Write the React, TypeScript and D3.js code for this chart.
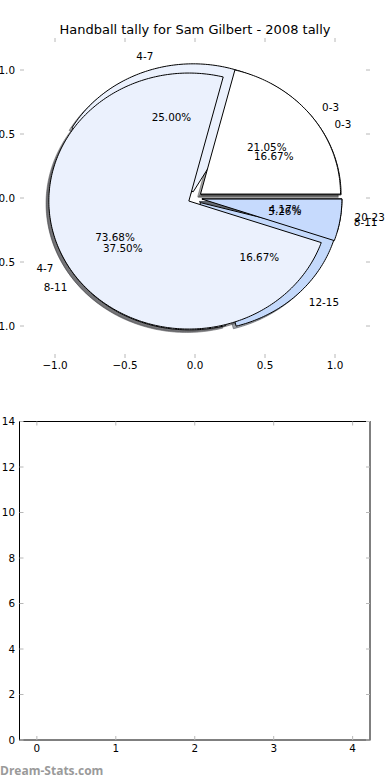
import React from 'react';
import * as d3 from 'd3';

const TITLE = 'Handball tally for Sam Gilbert - 2008 tally';
const WATERMARK = 'Dream-Stats.com';

// Pie drawn first (underneath)
const pieBLabels = ['0-3', '4-7', '8-11', '12-15', '20-23'];
const pieBValues = [4, 6, 9, 4, 1];
const pieBColors = ['#ffffff', '#ebf1fd', '#ebf1fd', '#c4d9fb', '#c6dafd'];

// Pie drawn second (on top)
const pieALabels = ['0-3', '4-7', '8-11'];
const pieAValues = [4, 14, 1];
const pieAColors = ['#ffffff', '#ebf1fd', '#c6dafd'];

const EXPLODE = 0.05;
const LABEL_DIST = 1.1;
const PCT_DIST = 0.6;

const pieTicks = [-1.0, -0.5, 0.0, 0.5, 1.0];
const barYTicks = [0, 2, 4, 6, 8, 10, 12, 14];
const barXTicks = [0, 1, 2, 3, 4];

const FONT = 'DejaVu Sans, sans-serif';
const TICK_GRAY = '#b8b8b8';

type Wedge = {
  cx: number; cy: number; t1: number; t2: number; mid: number;
  color: string; label: string; pct: string;
};

function buildWedges(values: number[], labels: string[], colors: string[]): Wedge[] {
  const total = d3.sum(values);
  const out: Wedge[] = [];
  let start = 0;
  values.forEach((v, i) => {
    const frac = v / total;
    const t1 = start;
    const t2 = start + frac * 360;
    const mid = ((t1 + t2) / 2) * Math.PI / 180;
    out.push({
      cx: EXPLODE * Math.cos(mid),
      cy: EXPLODE * Math.sin(mid),
      t1, t2, mid,
      color: colors[i],
      label: labels[i],
      pct: (frac * 100).toFixed(2) + '%',
    });
    start = t2;
  });
  return out;
}

function shade(c: string) {
  const col = d3.rgb(c);
  return d3.rgb(col.r * 0.3, col.g * 0.3, col.b * 0.3).toString();
}

export default function App() {
  const W = 390, H = 780;
  // Pie axes
  const px = d3.scaleLinear().domain([-1.25, 1.25]).range([20, 370]);
  const py = d3.scaleLinear().domain([-1.25, 1.25]).range([358, 38]);
  // Bar axes
  const bx = d3.scaleLinear().domain([-0.22, 4.22]).range([19.5, 370]);
  const by = d3.scaleLinear().domain([0, 14]).range([740, 421.5]);

  const line = d3.line<[number, number]>().x(d => px(d[0])).y(d => py(d[1]));

  const wedgePath = (w: Wedge, ox = 0, oy = 0) => {
    const cx = w.cx + ox, cy = w.cy + oy;
    const n = Math.max(2, Math.ceil((w.t2 - w.t1) / 1));
    const angles = d3.range(n + 1).map(i => (w.t1 + (w.t2 - w.t1) * i / n) * Math.PI / 180);
    const pts: [number, number][] = [[cx, cy], ...angles.map(a => [cx + Math.cos(a), cy + Math.sin(a)] as [number, number])];
    return line(pts) + 'Z';
  };

  const wedgesB = buildWedges(pieBValues, pieBLabels, pieBColors);
  const wedgesA = buildWedges(pieAValues, pieALabels, pieAColors);
  const all = [...wedgesB, ...wedgesA];

  const labelNodes = (ws: Wedge[], key: string) => ws.map((w, i) => {
    const xt = w.cx + LABEL_DIST * Math.cos(w.mid);
    const yt = w.cy + LABEL_DIST * Math.sin(w.mid);
    const xp = w.cx + PCT_DIST * Math.cos(w.mid);
    const yp = w.cy + PCT_DIST * Math.sin(w.mid);
    return (
      <g key={key + i}>
        <text x={px(xt)} y={py(yt)} dy="0.36em" textAnchor={xt > 0 ? 'start' : 'end'}
          fontSize={10.4} fontFamily={FONT} fill="#000">{w.label}</text>
        <text x={px(xp)} y={py(yp)} dy="0.36em" textAnchor="middle"
          fontSize={10.4} fontFamily={FONT} fill="#000">{w.pct}</text>
      </g>
    );
  });

  const fmt = (v: number) => (v < 0 ? '\u2212' : '') + Math.abs(v).toFixed(1);

  return (
    <svg width={W} height={H} style={{ position: 'absolute', left: 0, top: 0, background: '#fff' }}>
      <rect x={0} y={0} width={W} height={H} fill="#fff" />
      <text x={195} y={34} textAnchor="middle" fontSize={13} fontFamily={FONT} fill="#000">{TITLE}</text>

      {/* pie axes ticks */}
      {pieTicks.map((t, i) => (
        <g key={'pt' + i} stroke={TICK_GRAY} strokeWidth={1}>
          <line x1={px(t)} x2={px(t)} y1={py(-1.25)} y2={py(-1.25) - 4} />
          <line x1={px(t)} x2={px(t)} y1={py(1.25)} y2={py(1.25) + 4} />
          <line x1={px(-1.25)} x2={px(-1.25) + 4} y1={py(t)} y2={py(t)} />
          <line x1={px(1.25)} x2={px(1.25) - 4} y1={py(t)} y2={py(t)} />
        </g>
      ))}
      {pieTicks.map((t, i) => (
        <text key={'ptx' + i} x={px(t)} y={368.5} textAnchor="middle" fontSize={10.4} fontFamily={FONT}>{fmt(t)}</text>
      ))}
      {pieTicks.map((t, i) => (
        <text key={'pty' + i} x={15} y={py(t)} dy="0.36em" textAnchor="end" fontSize={10.4} fontFamily={FONT}>{fmt(t)}</text>
      ))}

      {/* shadows */}
      {all.map((w, i) => (
        <path key={'s' + i} d={wedgePath(w, -0.02, -0.02)} fill={shade(w.color)} fillOpacity={0.5}
          stroke={shade(w.color)} strokeOpacity={0.5} strokeWidth={1} />
      ))}
      {/* wedges */}
      {all.map((w, i) => (
        <path key={'w' + i} d={wedgePath(w)} fill={w.color} stroke="#000" strokeWidth={1} strokeLinejoin="miter" />
      ))}
      {labelNodes(wedgesB, 'b')}
      {labelNodes(wedgesA, 'a')}

      {/* bottom axes */}
      <rect x={bx(-0.22)} y={by(14)} width={bx(4.22) - bx(-0.22)} height={by(0) - by(14)} fill="none" stroke="#000" strokeWidth={1} />
      {barXTicks.map((t, i) => (
        <g key={'bx' + i}>
          <line x1={bx(t)} x2={bx(t)} y1={by(0)} y2={by(0) - 4} stroke={TICK_GRAY} />
          <line x1={bx(t)} x2={bx(t)} y1={by(14)} y2={by(14) + 4} stroke={TICK_GRAY} />
          <text x={bx(t)} y={752} textAnchor="middle" fontSize={10.4} fontFamily={FONT}>{t}</text>
        </g>
      ))}
      {barYTicks.map((t, i) => (
        <g key={'by' + i}>
          <line x1={bx(-0.22)} x2={bx(-0.22) + 4} y1={by(t)} y2={by(t)} stroke={TICK_GRAY} />
          <line x1={bx(4.22)} x2={bx(4.22) - 4} y1={by(t)} y2={by(t)} stroke={TICK_GRAY} />
          <text x={15} y={by(t)} dy="0.36em" textAnchor="end" fontSize={10.4} fontFamily={FONT}>{t}</text>
        </g>
      ))}

      <text x={0} y={775} fontSize={12} fontWeight="bold" fontFamily="Open Sans, sans-serif" fill="#9a9a9a">{WATERMARK}</text>
    </svg>
  );
}
